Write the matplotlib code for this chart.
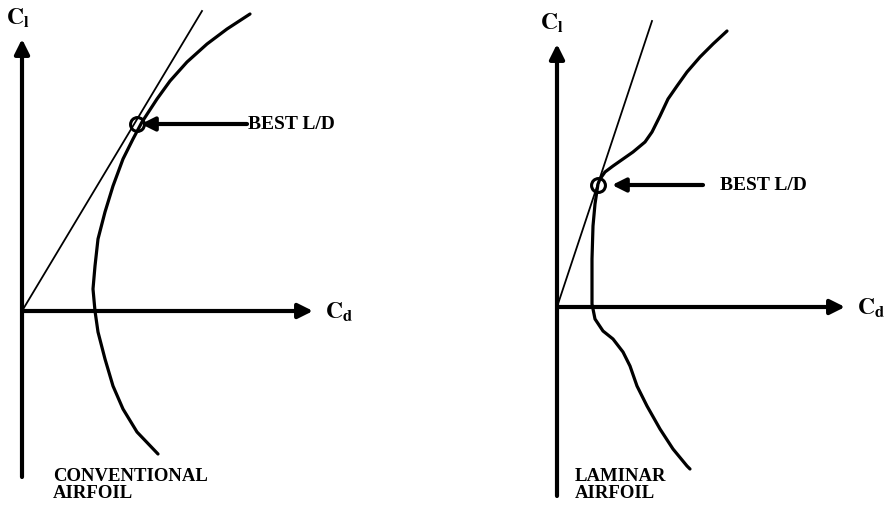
import matplotlib.pyplot as plt

plt.rcParams['font.family'] = 'Liberation Serif'
plt.rcParams['mathtext.fontset'] = 'stix'

# conventional airfoil drag polar (Cd, Cl), arbitrary units
conv_cd = [2.28, 2.05, 1.85, 1.65, 1.48, 1.35, 1.20, 1.11, 1.01, 0.91, 0.83, 0.76, 0.73,
           0.71, 0.73, 0.76, 0.83, 0.91, 1.01, 1.15, 1.36]
conv_cl = [2.97, 2.82, 2.67, 2.49, 2.30, 2.12, 1.89, 1.72, 1.52, 1.25, 0.99, 0.72, 0.45,
           0.22, 0.00, -0.21, -0.48, -0.75, -0.98, -1.21, -1.43]
conv_tangent_cd = [0.0, 1.80]
conv_tangent_cl = [0.0, 3.00]
conv_best = (1.15, 1.87)

# laminar airfoil drag polar
lam_cd = [1.70, 1.56, 1.43, 1.30, 1.20, 1.11, 1.03, 0.95, 0.88, 0.76, 0.66, 0.56, 0.48,
          0.43, 0.41, 0.38, 0.36, 0.35, 0.35, 0.38, 0.46, 0.56, 0.66, 0.73, 0.80, 0.90,
          1.03, 1.16, 1.30, 1.33]
lam_cl = [2.76, 2.63, 2.50, 2.35, 2.21, 2.08, 1.91, 1.75, 1.65, 1.55, 1.48, 1.41, 1.35,
          1.28, 1.23, 1.03, 0.81, 0.48, 0.03, -0.12, -0.24, -0.32, -0.45, -0.59, -0.79,
          -0.99, -1.22, -1.42, -1.59, -1.62]
lam_tangent_cd = [0.0, 0.95]
lam_tangent_cl = [0.0, 2.86]
lam_best = (0.41, 1.22)

panels = [
    dict(cd=conv_cd, cl=conv_cl, tcd=conv_tangent_cd, tcl=conv_tangent_cl, best=conv_best,
         name='CONVENTIONAL\nAIRFOIL', rect=[0, 0, 0.5, 1],
         xlim=(-0.22, 4.215), ylim=(-1.98, 3.12), vaxis=(-1.66, 2.72), haxis=2.91,
         arrow=(2.25, 1.19), text_x=2.26, name_xy=(0.31, -1.56), cl_xy=(-0.04, 2.94),
         cd_xy=(3.03, 0.0)),
    dict(cd=lam_cd, cl=lam_cl, tcd=lam_tangent_cd, tcl=lam_tangent_cl, best=lam_best,
         name='LAMINAR\nAIRFOIL', rect=[0.5, 0, 0.5, 1],
         xlim=(-1.135, 3.30), ylim=(-2.02, 3.08), vaxis=(-1.89, 2.63), haxis=2.88,
         arrow=(1.46, 0.55), text_x=1.63, name_xy=(0.18, -1.60), cl_xy=(-0.05, 2.85),
         cd_xy=(3.00, 0.0)),
]

fig = plt.figure(figsize=(8.87, 5.10), dpi=100)

for p in panels:
    ax = fig.add_axes(p['rect'])
    ax.set_xlim(*p['xlim'])
    ax.set_ylim(*p['ylim'])
    ax.axis('off')

    # axes with arrowheads
    ax.annotate('', xy=(0, p['vaxis'][1]), xytext=(0, p['vaxis'][0]),
                arrowprops=dict(arrowstyle='-|>', lw=3, color='black', mutation_scale=22,
                                shrinkA=0, shrinkB=0))
    ax.annotate('', xy=(p['haxis'], 0), xytext=(0, 0),
                arrowprops=dict(arrowstyle='-|>', lw=3, color='black', mutation_scale=22,
                                shrinkA=0, shrinkB=0))

    # polar and tangent line
    ax.plot(p['cd'], p['cl'], color='black', lw=2.3, solid_capstyle='round',
            solid_joinstyle='round')
    ax.plot(p['tcd'], p['tcl'], color='black', lw=1.3)
    ax.plot(*p['best'], 'o', ms=10, mfc='none', mec='black', mew=2.2)

    # best L/D pointer
    ax.annotate('', xy=(p['arrow'][1], p['best'][1]), xytext=(p['arrow'][0], p['best'][1]),
                arrowprops=dict(arrowstyle='-|>', lw=3, color='black', mutation_scale=20,
                                shrinkA=0, shrinkB=0))
    ax.text(p['text_x'], p['best'][1], 'BEST L/D', fontsize=14, fontweight='bold',
            va='center', ha='left')

    ax.text(p['cl_xy'][0], p['cl_xy'][1], r'$\mathbf{C_l}$', fontsize=17,
            ha='center', va='center')
    ax.text(p['cd_xy'][0], p['cd_xy'][1], r'$\mathbf{C_d}$', fontsize=17,
            ha='left', va='center')
    ax.text(p['name_xy'][0], p['name_xy'][1], p['name'], fontsize=13.5, fontweight='bold',
            ha='left', va='top', linespacing=1.0)

fig.savefig('out.png', dpi=100)
